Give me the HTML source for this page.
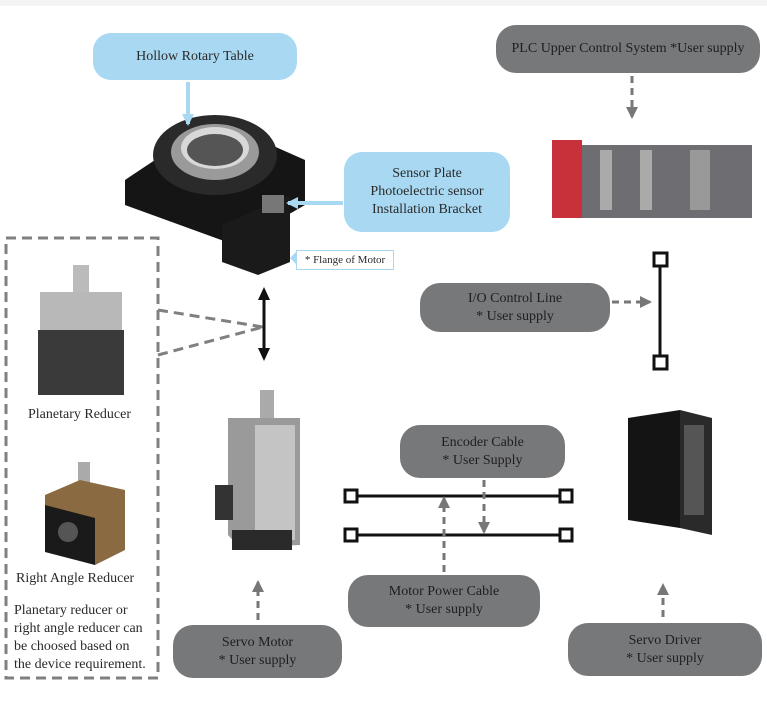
<!DOCTYPE html>
<html><head><meta charset="utf-8"><style>
body{margin:0;background:#fff;}
#c{position:relative;width:767px;height:710px;overflow:hidden;font-family:"Liberation Serif",serif;color:#2a2a2a;}
.b{position:absolute;display:flex;align-items:center;justify-content:center;text-align:center;font-size:14px;line-height:18px;}
.blue{background:#a8d8f2;border-radius:18px;}
.gray{background:#77787a;border-radius:20px;color:#1e1e1e;}
.t{position:absolute;font-size:14px;}
</style></head><body><div id="c">
<svg width="767" height="710" style="position:absolute;left:0;top:0">
<defs>
<marker id="ga" markerUnits="userSpaceOnUse" markerWidth="14" markerHeight="14" refX="10" refY="7" orient="auto"><path d="M0,1 L12,7 L0,13 z" fill="#777"/></marker>
<marker id="ba" markerUnits="userSpaceOnUse" markerWidth="14" markerHeight="14" refX="10" refY="7" orient="auto"><path d="M0,1 L12,7 L0,13 z" fill="#a8d8f2"/></marker>
<marker id="ka" markerUnits="userSpaceOnUse" markerWidth="14" markerHeight="14" refX="10" refY="7" orient="auto-start-reverse"><path d="M0,1 L13,7 L0,13 z" fill="#111"/></marker>
</defs>
<rect x="0" y="0" width="767" height="6" fill="#f4f4f4"/>
<!-- rotary table -->
<polygon points="125,180 215,120 305,160 305,205 235,245 125,205" fill="#151515"/>
<polygon points="222,225 290,195 290,262 258,275 222,262" fill="#1a1a1a"/>
<ellipse cx="215" cy="155" rx="62" ry="40" fill="#2a2a2a"/>
<ellipse cx="215" cy="152" rx="44" ry="28" fill="#9a9a9a"/>
<ellipse cx="215" cy="148" rx="34" ry="21" fill="#d8d8d8"/>
<ellipse cx="215" cy="150" rx="28" ry="16" fill="#555"/>
<rect x="262" y="195" width="22" height="18" fill="#777"/>
<line x1="188" y1="82" x2="188" y2="124" stroke="#a8d8f2" stroke-width="4" marker-end="url(#ba)"/>
<line x1="343" y1="203" x2="288" y2="203" stroke="#a8d8f2" stroke-width="4" marker-end="url(#ba)"/>
<polygon points="290,258 298,250 298,266" fill="#a8d8f2"/>
<!-- PLC -->
<line x1="632" y1="76" x2="632" y2="117" stroke="#777" stroke-width="3" stroke-dasharray="7,5" marker-end="url(#ga)"/>
<rect x="552" y="140" width="30" height="78" fill="#c8303a"/>
<rect x="582" y="145" width="170" height="73" fill="#6e6e72"/>
<rect x="600" y="150" width="12" height="60" fill="#aaa"/><rect x="640" y="150" width="12" height="60" fill="#aaa"/><rect x="690" y="150" width="20" height="60" fill="#999"/>
<!-- IO line -->
<line x1="660" y1="266" x2="660" y2="356" stroke="#111" stroke-width="3"/>
<rect x="654" y="253" width="13" height="13" fill="#fff" stroke="#111" stroke-width="3"/>
<rect x="654" y="356" width="13" height="13" fill="#fff" stroke="#111" stroke-width="3"/>
<line x1="612" y1="302" x2="650" y2="302" stroke="#777" stroke-width="3" stroke-dasharray="7,5" marker-end="url(#ga)"/>
<!-- double arrow -->
<line x1="264" y1="290" x2="264" y2="358" stroke="#111" stroke-width="3" marker-start="url(#ka)" marker-end="url(#ka)"/>
<!-- dashed box -->
<rect x="6" y="238" width="152" height="440" fill="none" stroke="#808080" stroke-width="3" stroke-dasharray="10,6"/>
<line x1="158" y1="310" x2="263" y2="327" stroke="#808080" stroke-width="3" stroke-dasharray="10,6"/>
<line x1="158" y1="355" x2="263" y2="327" stroke="#808080" stroke-width="3" stroke-dasharray="10,6"/>
<!-- planetary reducer -->
<rect x="73" y="265" width="16" height="30" fill="#bbb"/>
<rect x="40" y="292" width="82" height="40" fill="#b8b8b8"/>
<rect x="38" y="330" width="86" height="65" fill="#3a3a3a"/>
<!-- right angle reducer -->
<rect x="78" y="462" width="12" height="20" fill="#aaa"/>
<polygon points="45,495 80,480 125,490 125,550 95,565 45,550" fill="#8a6a40"/>
<polygon points="45,505 95,518 95,565 45,552" fill="#1a1a1a"/>
<circle cx="68" cy="532" r="10" fill="#555"/>
<!-- servo motor -->
<rect x="260" y="390" width="14" height="30" fill="#aaa"/>
<polygon points="228,418 300,418 300,545 240,548 228,535" fill="#9a9a9a"/>
<rect x="255" y="425" width="40" height="115" fill="#c4c4c4"/>
<rect x="215" y="485" width="18" height="35" fill="#333"/>
<rect x="232" y="530" width="60" height="20" fill="#2a2a2a"/>
<!-- cables -->
<line x1="357" y1="496" x2="560" y2="496" stroke="#111" stroke-width="3"/>
<line x1="357" y1="535" x2="560" y2="535" stroke="#111" stroke-width="3"/>
<rect x="345" y="490" width="12" height="12" fill="#fff" stroke="#111" stroke-width="3"/>
<rect x="560" y="490" width="12" height="12" fill="#fff" stroke="#111" stroke-width="3"/>
<rect x="345" y="529" width="12" height="12" fill="#fff" stroke="#111" stroke-width="3"/>
<rect x="560" y="529" width="12" height="12" fill="#fff" stroke="#111" stroke-width="3"/>
<line x1="484" y1="480" x2="484" y2="532" stroke="#777" stroke-width="3" stroke-dasharray="7,5" marker-end="url(#ga)"/>
<line x1="444" y1="572" x2="444" y2="498" stroke="#777" stroke-width="3" stroke-dasharray="7,5" marker-end="url(#ga)"/>
<line x1="258" y1="620" x2="258" y2="582" stroke="#777" stroke-width="3" stroke-dasharray="7,5" marker-end="url(#ga)"/>
<line x1="663" y1="617" x2="663" y2="585" stroke="#777" stroke-width="3" stroke-dasharray="7,5" marker-end="url(#ga)"/>
<!-- servo driver -->
<polygon points="628,418 680,410 680,528 628,520" fill="#141414"/>
<polygon points="680,410 712,418 712,535 680,528" fill="#2a2a2a"/>
<rect x="684" y="425" width="20" height="90" fill="#555"/>
</svg>
<div class="b blue" style="left:93px;top:33px;width:204px;height:47px">Hollow Rotary Table</div>
<div class="b blue" style="left:344px;top:152px;width:166px;height:80px">Sensor Plate<br>Photoelectric sensor<br>Installation Bracket</div>
<div class="b" style="left:296px;top:250px;width:96px;height:18px;border:1px solid #a8d8f2;background:#fff;font-size:11px">* Flange of Motor</div>
<div class="b gray" style="left:496px;top:25px;width:264px;height:48px">PLC Upper Control System *User supply</div>
<div class="b gray" style="left:420px;top:283px;width:190px;height:49px">I/O Control Line<br>* User supply</div>
<div class="b gray" style="left:400px;top:425px;width:165px;height:53px">Encoder Cable<br>* User Supply</div>
<div class="b gray" style="left:348px;top:575px;width:192px;height:52px">Motor Power Cable<br>* User supply</div>
<div class="b gray" style="left:173px;top:625px;width:169px;height:53px">Servo Motor<br>* User supply</div>
<div class="b gray" style="left:568px;top:623px;width:194px;height:53px">Servo Driver<br>* User supply</div>
<div class="t" style="left:28px;top:407px">Planetary Reducer</div>
<div class="t" style="left:16px;top:571px">Right Angle Reducer</div>
<div class="t" style="left:14px;top:602px;line-height:18px">Planetary reducer or<br>right angle reducer can<br>be choosed based on<br>the device requirement.</div>
</div></body></html>
